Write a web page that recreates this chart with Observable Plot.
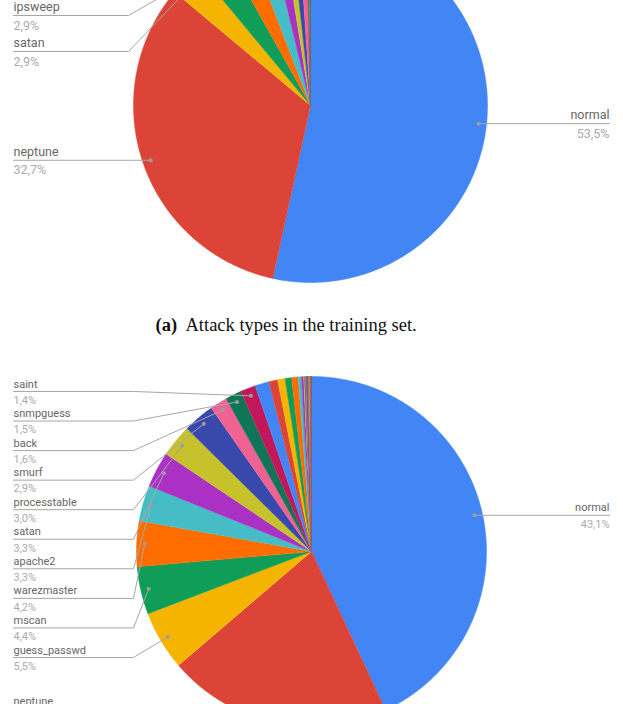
<!DOCTYPE html>
<html>
<head>
<meta charset="utf-8">
<script src="https://cdn.jsdelivr.net/npm/d3@7"></script>
<script src="https://cdn.jsdelivr.net/npm/@observablehq/plot@0.6"></script>
<style>
  html, body { margin: 0; padding: 0; background: #fff; }
  #chart svg { display: block; }
</style>
</head>
<body>
<div id="chart"></div>
<script>
// ---- Data: attack types in the training set (percent of records) ----
const trainNames = ["normal","neptune","satan","ipsweep","portsweep","smurf","nmap","back","teardrop","warezclient","pod","guess_passwd","buffer_overflow","warezmaster","land","imap","rootkit","loadmodule","ftp_write","multihop","phf","perl","spy"];
const trainPct   = [53.5,32.7,2.9,2.9,2.3,2.1,1.2,0.8,0.7,0.7,0.2,0.04,0.02,0.02,0.01,0.01,0.01,0.01,0.01,0.01,0.003,0.002,0.002];

// ---- Data: attack types in the test set (percent of records) ----
const testNames = ["normal","neptune","guess_passwd","mscan","warezmaster","apache2","satan","processtable","smurf","back","snmpguess","saint","mailbomb","snmpgetattack","portsweep","ipsweep","httptunnel","nmap","pod","buffer_overflow","multihop","named","ps","sendmail","rootkit","xterm","teardrop","xlock","land","xsnoop","ftp_write","worm","loadmodule","perl","sqlattack","udpstorm","phf","imap"];
const testPct   = [43.1,20.7,5.5,4.4,4.2,3.3,3.3,3.0,2.9,1.6,1.5,1.4,1.3,0.8,0.7,0.6,0.6,0.3,0.2,0.09,0.08,0.08,0.07,0.06,0.06,0.06,0.05,0.04,0.03,0.02,0.01,0.01,0.01,0.01,0.01,0.01,0.01,0.004];

const palette = ["#4285F4","#DB4437","#F4B400","#0F9D58","#FF6D00","#46BDC6","#AB30C4","#C6C22C","#3949AB","#F06292","#0E7657","#C2185B"];

const captionTag  = "(a)";
const captionText = "Attack types in the training set.";
const labelMin = 1.4; // slices labelled

// ---- Layout ----
const W = 623, H = 704;
const charts = [
  {names: trainNames, values: trainPct, cx: 310, cy: 105, r: 177, fs: 12.5, step: 36, stackBottom: 51, elbowX: 128, maxY: Infinity},
  {names: testNames,  values: testPct,  cx: 311, cy: 551, r: 175, fs: 11,   step: 29.56, stackBottom: 657, elbowX: 133, maxY: 708}
];
const textLeft = 13, textRight = 609;

const fmt = v => v.toFixed(1).replace(".", ",") + "%";
const pt = (c, ang, rad) => ({x: c.cx + rad * Math.sin(ang), y: c.cy - rad * Math.cos(ang)});

const slices = [], leaders = [], dots = [], names = [], pcts = [];

charts.forEach((c, ci) => {
  const arcs = d3.pie().sort(null).value(i => c.values[i])(d3.range(c.values.length));
  const left = [];
  arcs.forEach(a => {
    const i = a.data, key = ci + "-" + i, color = palette[i % palette.length];
    const n = Math.max(2, Math.ceil((a.endAngle - a.startAngle) / (Math.PI / 360)));
    slices.push({key, color, x: c.cx, y: c.cy});
    for (let s = 0; s <= n; ++s) {
      const p = pt(c, a.startAngle + (a.endAngle - a.startAngle) * s / n, c.r);
      slices.push({key, color, ...p});
    }
    if (c.values[i] >= labelMin) {
      const mid = (a.startAngle + a.endAngle) / 2;
      const d = pt(c, mid, c.r - 8);
      const lab = {key, i, d, name: c.names[i], pct: fmt(c.values[i]), fs: c.fs};
      if (d.x > c.cx) {
        dots.push({...d});
        leaders.push({key, x: d.x, y: d.y}, {key, x: textRight, y: d.y});
        names.push({x: textRight, y: d.y - 0.68 * c.fs, text: lab.name, fs: c.fs, anchor: "end"});
        pcts.push({x: textRight, y: d.y + 0.8 * c.fs, text: lab.pct, fs: c.fs, anchor: "end"});
      } else left.push(lab);
    }
  });
  // largest left slice is labelled at its own height, the others are stacked above it
  left.forEach((lab, k) => {
    const ly = k === 0 ? Math.min(lab.d.y, c.maxY) : c.stackBottom - (k - 1) * c.step;
    dots.push({...lab.d});
    leaders.push({key: lab.key, x: textLeft, y: ly},
                 {key: lab.key, x: Math.min(c.elbowX, lab.d.x), y: ly},
                 {key: lab.key, x: lab.d.x, y: lab.d.y});
    names.push({x: textLeft, y: ly - 0.68 * c.fs, text: lab.name, fs: c.fs, anchor: "start"});
    pcts.push({x: textLeft, y: ly + 0.8 * c.fs, text: lab.pct, fs: c.fs, anchor: "start"});
  });
});

const plot = Plot.plot({
  width: W, height: H, margin: 0,
  x: {axis: null, domain: [0, W], range: [0, W]},
  y: {axis: null, domain: [0, H], range: [0, H]},
  color: {type: "identity"},
  style: {fontFamily: "Roboto, 'Noto Sans', sans-serif", background: "#fff"},
  marks: [
    Plot.line(slices, {x: "x", y: "y", z: "key", fill: "color", stroke: "color", strokeWidth: 0.5, curve: "linear"}),
    Plot.line(leaders, {x: "x", y: "y", z: "key", stroke: "#a6a6a6", strokeWidth: 1, curve: "linear"}),
    Plot.dot(dots, {x: "x", y: "y", r: 2, fill: "#9e9e9e", stroke: null}),
    Plot.text(names.filter(d => d.anchor === "start"), {x: "x", y: "y", text: "text", fontSize: d => d.fs, textAnchor: "start", fill: "#666666"}),
    Plot.text(names.filter(d => d.anchor === "end"), {x: "x", y: "y", text: "text", fontSize: d => d.fs, textAnchor: "end", fill: "#666666"}),
    Plot.text(pcts.filter(d => d.anchor === "start"), {x: "x", y: "y", text: "text", fontSize: d => d.fs, textAnchor: "start", fill: "#ababab"}),
    Plot.text(pcts.filter(d => d.anchor === "end"), {x: "x", y: "y", text: "text", fontSize: d => d.fs, textAnchor: "end", fill: "#ababab"}),
    Plot.text([captionTag], {x: () => 155, y: () => 325, text: d => d, textAnchor: "start", fontSize: 18.5, fontWeight: "bold", fontFamily: "'Liberation Serif', serif", fill: "#111"}),
    Plot.text([captionText], {x: () => 185, y: () => 325, text: d => d, textAnchor: "start", fontSize: 18.5, fontFamily: "'Liberation Serif', serif", fill: "#111"})
  ]
});
document.getElementById("chart").appendChild(plot);
</script>
</body>
</html>
